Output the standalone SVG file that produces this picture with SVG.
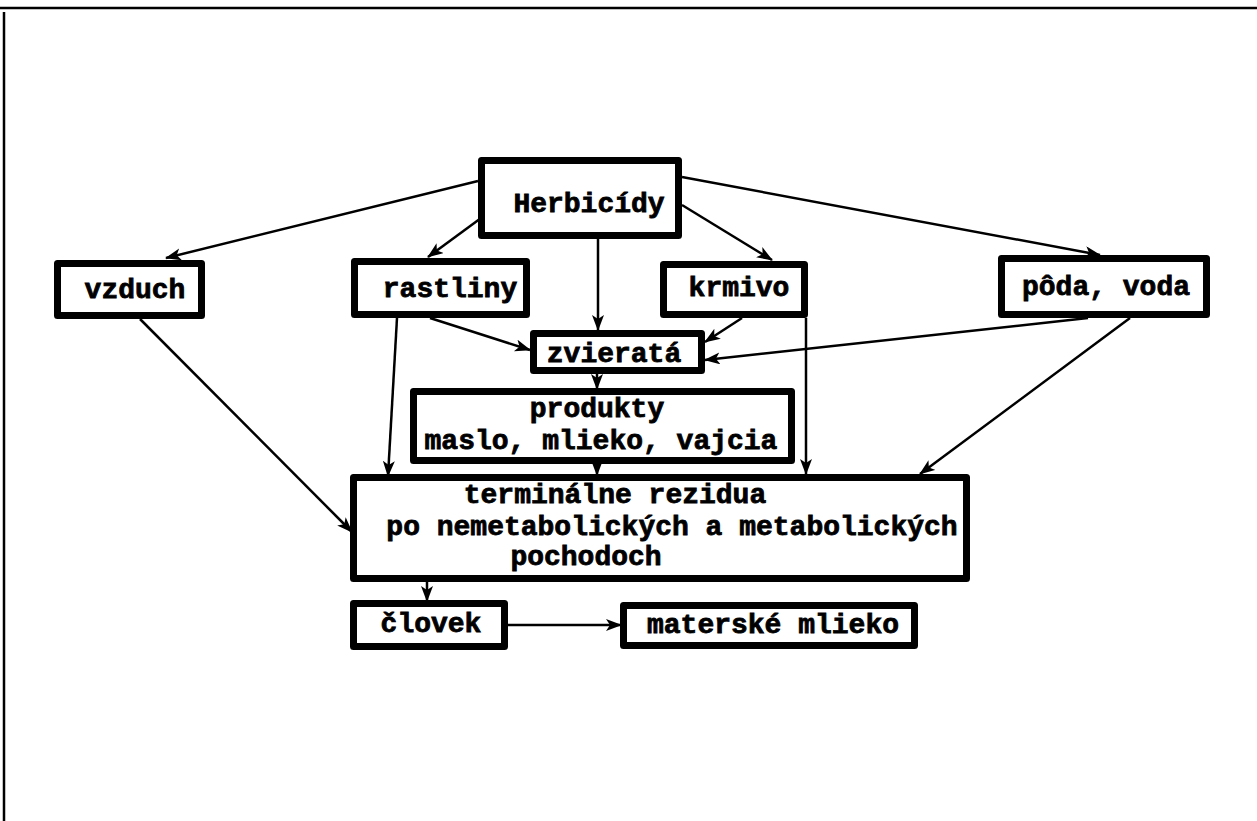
<svg xmlns="http://www.w3.org/2000/svg" width="1257" height="821" viewBox="0 0 1257 821">
<style>
.box{fill:#fff;stroke:#000;stroke-width:7;stroke-linejoin:round}
.t{font-family:"Liberation Mono","Courier New",monospace;font-weight:bold;font-size:28px;fill:#000;stroke:#000;stroke-width:0.8;text-anchor:middle}
.c{stroke:#000;stroke-width:2.5;fill:none;marker-end:url(#ah)}
</style>
<defs>
<marker id="ah" markerUnits="userSpaceOnUse" markerWidth="18" markerHeight="14" refX="15" refY="6" orient="auto">
<path d="M0,0 L16,6 L0,12 L4,6 Z" fill="#000"/>
</marker>
</defs>
<rect width="1257" height="821" fill="#fff"/>
<g id="frame" stroke="#000" stroke-width="2.5">
<line x1="0" y1="8" x2="1257" y2="8"/>
<line x1="4" y1="12" x2="4" y2="821"/>
</g>
<g id="connectors">
<line class="c" x1="478" y1="181" x2="166" y2="258"/>
<line class="c" x1="492" y1="210" x2="428" y2="257"/>
<line class="c" x1="598" y1="238" x2="598" y2="330"/>
<line class="c" x1="682" y1="205" x2="772" y2="260"/>
<line class="c" x1="682" y1="177" x2="1100" y2="255"/>
<line class="c" x1="430" y1="318" x2="530" y2="350"/>
<line class="c" x1="742" y1="318" x2="705" y2="342"/>
<line class="c" x1="1088" y1="318" x2="705" y2="360"/>
<line class="c" x1="140" y1="319" x2="352" y2="532"/>
<line class="c" x1="397" y1="318" x2="388" y2="476"/>
<line class="c" x1="806" y1="318" x2="806" y2="474"/>
<line class="c" x1="1130" y1="318" x2="920" y2="474"/>
<line class="c" x1="597" y1="374" x2="597" y2="389"/>
<line class="c" x1="597" y1="464" x2="597" y2="475"/>
<line class="c" x1="427" y1="582" x2="427" y2="601"/>
<line class="c" x1="508" y1="625" x2="621" y2="625"/>
</g>
<g id="herbicidy"><rect class="box" x="481.5" y="160.5" width="197" height="75"/><text class="t" x="589" y="212">Herbicídy</text></g>
<g id="vzduch"><rect class="box" x="57.5" y="263.5" width="144" height="52"/><text class="t" x="135" y="298">vzduch</text></g>
<g id="rastliny"><rect class="box" x="354.5" y="261.5" width="172" height="53"/><text class="t" x="450" y="297">rastliny</text></g>
<g id="krmivo"><rect class="box" x="663.5" y="264.5" width="141" height="50"/><text class="t" x="739" y="296">krmivo</text></g>
<g id="poda"><rect class="box" x="1001.5" y="258.5" width="205" height="56"/><text class="t" x="1106" y="295">pôda, voda</text></g>
<g id="zvierata"><rect class="box" x="533.5" y="333.5" width="168" height="37"/><text class="t" x="614" y="362">zvieratá</text></g>
<g id="produkty"><rect class="box" x="413.5" y="391.5" width="378" height="69"/><text class="t" x="597" y="417">produkty</text><text class="t" x="601" y="449">maslo, mlieko, vajcia</text></g>
<g id="terminalne"><rect class="box" x="353.5" y="477.5" width="613" height="101"/><text class="t" x="615" y="503">terminálne rezidua</text><text class="t" x="672" y="535">po nemetabolických a metabolických</text><text class="t" x="586" y="565">pochodoch</text></g>
<g id="clovek"><rect class="box" x="353.5" y="603.5" width="151" height="43"/><text class="t" x="431" y="632">človek</text></g>
<g id="materske"><rect class="box" x="623.5" y="605.5" width="291" height="40"/><text class="t" x="773" y="633">materské mlieko</text></g>
</svg>
